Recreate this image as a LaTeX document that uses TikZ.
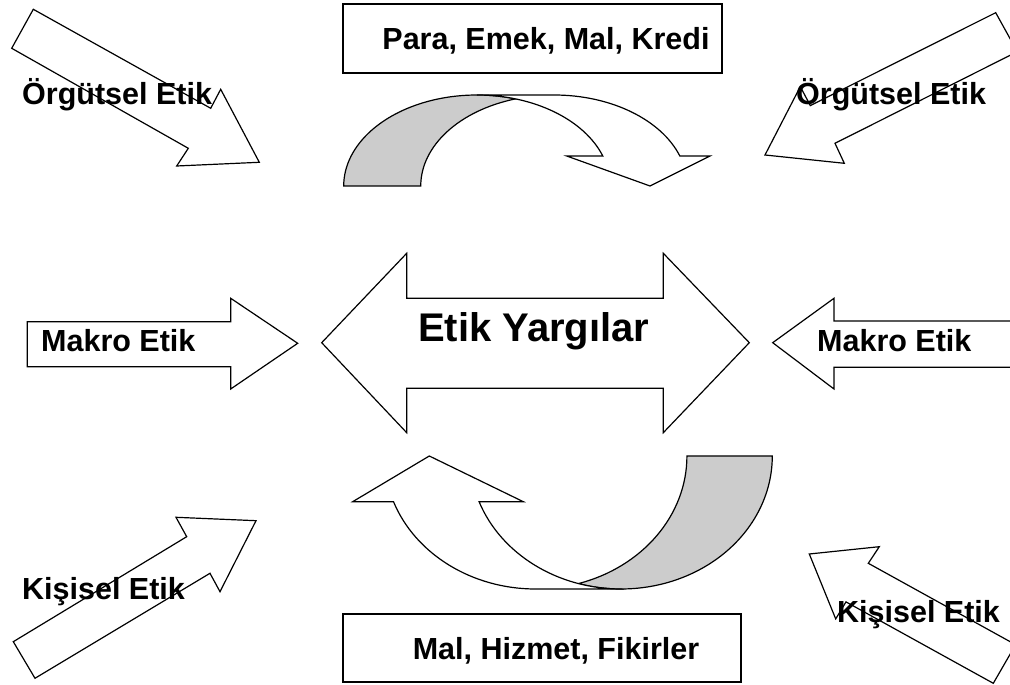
\documentclass[tikz,border=0pt]{standalone}
\usepackage{fontspec}
\setmainfont{Liberation Sans}
\begin{document}
\begin{tikzpicture}[x=1pt,y=1pt,
  outline/.style={draw=black,line width=1.2pt,line join=miter},
  blockarrow/.style={outline,fill=white},
  backface/.style={outline,fill=black!20},
  frontface/.style={outline,fill=white},
  labelbox/.style={outline,fill=white},
  lbl/.style={inner sep=0pt,anchor=base west,font=\fontsize{30.5}{35}\selectfont\bfseries},
  boxlbl/.style={lbl,anchor=base},
  biglbl/.style={inner sep=0pt,anchor=base west,font=\fontsize{40}{46}\selectfont\bfseries}]
\useasboundingbox (0,0) rectangle (1010,685);
\clip (0,0) rectangle (1010,685);

% exchange boxes
\draw[labelbox] (343,612) rectangle (722,681);
\draw[labelbox] (343,3) rectangle (741,71);

% central double arrow
\draw[blockarrow] (321.7,342.3) -- (406.7,431.7) -- (406.7,386.7) -- (663.3,386.7)
  -- (663.3,431.7) -- (749.3,342.3) -- (663.3,252.3) -- (663.3,296.7)
  -- (406.7,296.7) -- (406.7,252.3) -- cycle;

% side arrows
\draw[blockarrow] (27.3,363.3) -- (230.7,363.3) -- (230.7,386.7) -- (297.7,341.7)
  -- (230.7,296) -- (230.7,318.3) -- (27.3,318.3) -- cycle;
\draw[blockarrow] (1020,364) -- (834,364) -- (834,386.7) -- (772.7,342.3)
  -- (834,296) -- (834,317.7) -- (1020,317.7) -- cycle;

% diagonal arrows
\draw[blockarrow] (33.3,675.7) -- (210.7,576.7) -- (220.7,595.7) -- (259.3,522.7)
  -- (176.7,519) -- (188.3,536.7) -- (11.7,636.7) -- cycle;
\draw[blockarrow] (995.7,672.3) -- (810.3,579.4) -- (800.3,598.4) -- (765,530)
  -- (844.3,521.7) -- (835,541.7) -- (1017.3,633.3) -- cycle;
\draw[blockarrow] (13.3,43.3) -- (186.7,148.3) -- (176,167.7) -- (256,164.3)
  -- (220,93.3) -- (210,111.7) -- (35,6.7) -- cycle;
\draw[blockarrow] (809.3,131) -- (879.3,138.3) -- (868.3,121.7) -- (1015.6,40.3)
  -- (993.3,1.7) -- (846,83.1) -- (835.7,66.1) -- cycle;

% upper curved arrow
\draw[backface] (343.7,499) arc[start angle=180, end angle=73.2, x radius=133.3, y radius=91]
  arc[start angle=106.8, end angle=180, x radius=133.3, y radius=91] -- cycle;
\draw[frontface] (477,590) -- (554,590)
  arc[start angle=90, end angle=19.25, x radius=133.3, y radius=91]
  -- (710,529) -- (650,499) -- (566.7,529) -- (602.8,529)
  arc[start angle=19.25, end angle=90, x radius=133.3, y radius=91] -- cycle;

% lower curved arrow
\draw[backface] (772.3,229) arc[start angle=0, end angle=-106.4, x radius=151.2, y radius=133]
  arc[start angle=-73.6, end angle=0, x radius=151.2, y radius=133] -- cycle;
\draw[frontface] (621.1,96) -- (535.5,96)
  arc[start angle=-90, end angle=-159.9, x radius=151.2, y radius=133]
  -- (352.7,183.3) -- (429.3,229) -- (523.3,183.3) -- (479.1,183.3)
  arc[start angle=-159.9, end angle=-90, x radius=151.2, y radius=133] -- cycle;

% labels
\node[boxlbl] (top) at (546,635) {Para, Emek, Mal, Kredi};
\node[boxlbl] (bottom) at (556,25) {Mal, Hizmet, Fikirler};
\node[biglbl] (center) at (418,343) {Etik Yargılar};
\node[lbl] (makroL) at (41,333.5) {Makro Etik};
\node[lbl] (makroR) at (817,333.5) {Makro Etik};
\node[lbl] (orgL) at (22,580) {Örgütsel Etik};
\node[lbl] (orgR) at (796,580) {Örgütsel Etik};
\node[lbl] (kisL) at (22,85) {Kişisel Etik};
\node[lbl] (kisR) at (837,62.3) {Kişisel Etik};
\end{tikzpicture}
\end{document}
